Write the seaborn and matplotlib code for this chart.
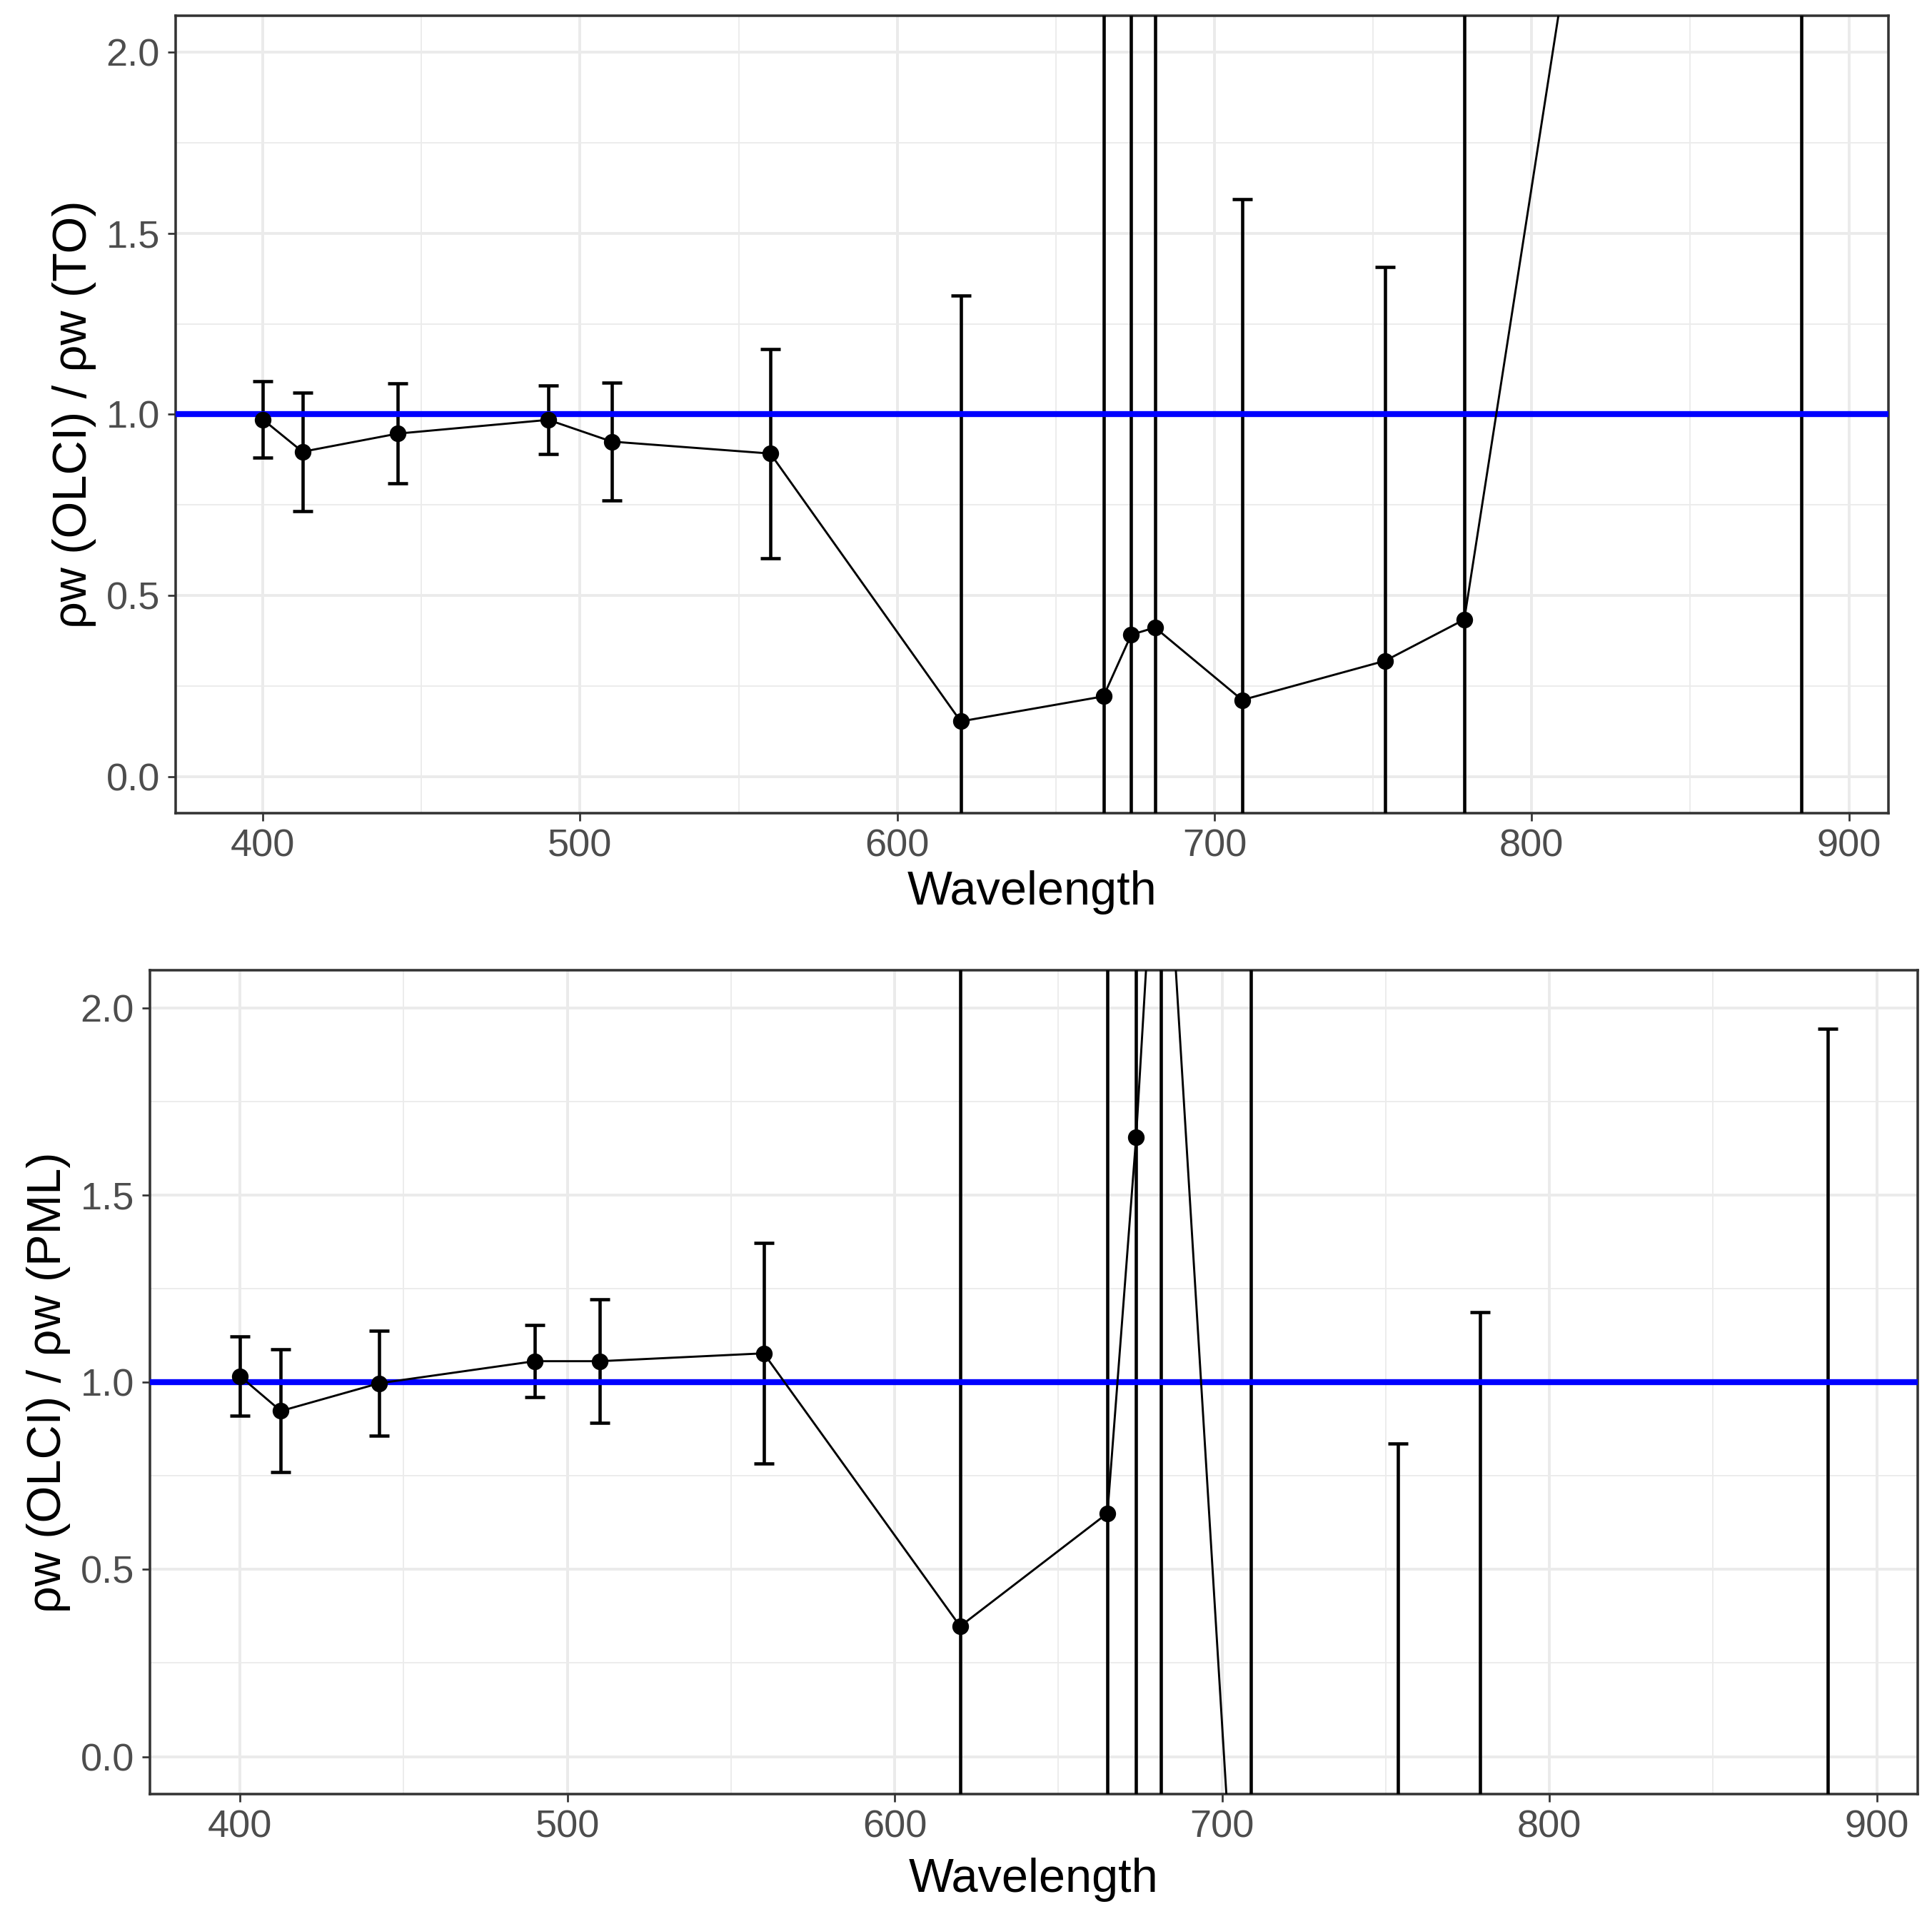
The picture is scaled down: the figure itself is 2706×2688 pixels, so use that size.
import pandas as pd
import seaborn as sns
import matplotlib.pyplot as plt
from matplotlib.ticker import MultipleLocator, FormatStrFormatter

# OLCI band centres (nm)
wavelength = [400, 412.5, 442.5, 490, 510, 560, 620, 665, 673.75, 681.25,
              708.75, 753.75, 778.75, 885]

# rho_w(OLCI) / rho_w(TO): mean and sd
to_ratio = [0.986, 0.897, 0.947, 0.985, 0.925, 0.892, 0.153, 0.222, 0.392,
            0.412, 0.212, 0.320, 0.434, 6.4]
to_sd = [0.105, 0.164, 0.138, 0.095, 0.162, 0.288, 1.174, 2.5, 2.4, 2.2,
         1.381, 1.087, 2.0, 8.0]

# rho_w(OLCI) / rho_w(PML): mean and sd
pml_ratio = [1.016, 0.923, 0.997, 1.056, 1.056, 1.077, 0.348, 0.650, 1.654,
             2.76, -1.16, -1.0, -0.8, -2.5]
pml_sd = [0.106, 0.164, 0.140, 0.096, 0.165, 0.294, 2.2, 1.9, 2.0, 3.2,
          3.6, 1.836, 1.987, 4.444]

sns.set_theme(style="white")
plt.rcParams["font.family"] = ["Liberation Sans", "DejaVu Sans"]

fig = plt.figure(figsize=(9.02, 8.96), dpi=300)
ax_top = fig.add_axes([0.0909, 0.5763, 0.8866, 0.4155])
ax_bot = fig.add_axes([0.0776, 0.0651, 0.9150, 0.4293])


def draw_panel(ax, ratio, sd, ylabel, xpad):
    df = pd.DataFrame({"Wavelength": wavelength, "ratio": ratio, "sd": sd})
    ax.set_axisbelow(True)
    ax.errorbar(df["Wavelength"], df["ratio"], yerr=df["sd"], fmt="none",
                ecolor="black", elinewidth=1.1, capsize=3.4, capthick=1.1,
                zorder=3)
    ax.axhline(1.0, color="#0000FF", lw=2.0, zorder=3.5)
    sns.lineplot(data=df, x="Wavelength", y="ratio", ax=ax, color="black",
                 linewidth=0.7, marker="o", markersize=5.6,
                 markeredgewidth=0, zorder=4)
    ax.set_xlim(372.5, 912.5)
    ax.set_ylim(-0.1, 2.1)
    ax.xaxis.set_major_locator(MultipleLocator(100))
    ax.xaxis.set_minor_locator(MultipleLocator(50))
    ax.yaxis.set_major_locator(MultipleLocator(0.5))
    ax.yaxis.set_minor_locator(MultipleLocator(0.25))
    ax.yaxis.set_major_formatter(FormatStrFormatter("%.1f"))
    ax.grid(which="major", color="#EBEBEB", lw=0.95)
    ax.grid(which="minor", color="#EBEBEB", lw=0.45)
    for s in ax.spines.values():
        s.set_color("#333333")
        s.set_linewidth(0.85)
    ax.tick_params(which="major", length=2.75, width=0.65, color="#333333",
                   labelsize=13, labelcolor="#4D4D4D", pad=2.5,
                   bottom=True, left=True)
    ax.tick_params(which="minor", length=0)
    ax.set_xlabel("Wavelength", fontsize=16, color="black", labelpad=xpad)
    ax.set_ylabel(ylabel, fontsize=16, color="black", labelpad=3.4)


draw_panel(ax_top, to_ratio, to_sd, "ρw (OLCI) / ρw (TO)", 2.0)
draw_panel(ax_bot, pml_ratio, pml_sd, "ρw (OLCI) / ρw (PML)", 4.0)

plt.savefig("out.png", dpi=300)
